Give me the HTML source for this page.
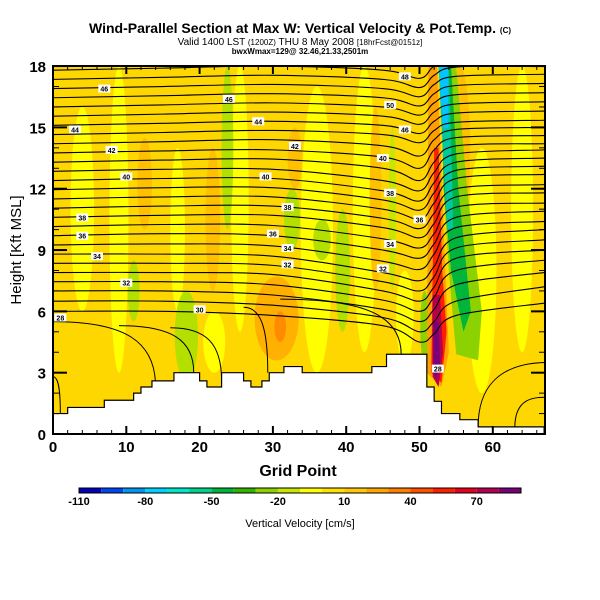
<!DOCTYPE html>
<html><head><meta charset="utf-8"><style>
body{margin:0;background:#fff}
svg{display:block;font-family:"Liberation Sans",sans-serif}
</style></head><body>
<svg id="chart" width="600" height="600" viewBox="0 0 600 600">
<text x="300" y="33" text-anchor="middle" font-size="14" font-weight="bold">Wind-Parallel Section at Max W: Vertical Velocity &amp; Pot.Temp. <tspan font-size="8">(C)</tspan></text>
<text x="300" y="45" text-anchor="middle" font-size="10">Valid 1400 LST <tspan font-size="8">(1200Z)</tspan> THU 8 May 2008 <tspan font-size="8">[18hrFcst@0151z]</tspan></text>
<text x="300" y="54" text-anchor="middle" font-size="8" font-weight="bold">bwxWmax=129@ 32.46,21.33,2501m</text>
<defs><clipPath id="pc"><rect x="53" y="66" width="492" height="368"/></clipPath></defs>
<g id="plot" clip-path="url(#pc)"></g>
<g id="axes"></g>
<text x="298" y="476" text-anchor="middle" font-size="16" font-weight="bold">Grid Point</text>
<text transform="translate(21,250) rotate(-90)" text-anchor="middle" font-size="15">Height [Kft MSL]</text>
<g id="cbar"></g>
<text x="300" y="527" text-anchor="middle" font-size="11">Vertical Velocity [cm/s]</text>
</svg>
<script>
const NS="http://www.w3.org/2000/svg";
// ---- data ----
const xTicks=[0,10,20,30,40,50,60];
const yTicks=[0,3,6,9,12,15,18];
const cbarColors=["#0000b4","#0046f0","#0096f0","#00d2ff","#00e6c8","#00d28c","#00b43c","#32b400","#8cd200","#c8e600","#ffff00","#ffe100","#ffc800","#ffa500","#ff7d00","#ff5000","#ff1e00","#e6001e","#b40050","#780078"];
const cbarLabels=["-110","-80","-50","-20","10","40","70"];
const terrX=[0,2,2,7,7,11,11,12,12,13.5,13.5,16.5,16.5,20,20,21,21,23,23,26,26,27,27,28.5,28.5,29.5,29.5,31.5,31.5,34,34,43.5,43.5,45.5,45.5,51,51,52,52,53,53,55.5,55.5,58,58,62.5,62.5,67];
const terrH=[1,1,1.3,1.3,1.65,1.65,2,2,2.3,2.3,2.6,2.6,3.0,3.0,2.6,2.6,2.3,2.3,3.0,3.0,2.6,2.6,2.3,2.3,2.6,2.6,3.0,3.0,3.3,3.3,3.0,3.0,3.3,3.3,3.9,3.9,2.3,2.3,1.6,1.6,1.0,1.0,0.7,0.7,0.35,0.35,0.35,0.35];
const cX=[0,15,30,45,50,52,55,67];
const contourH=[
[17.8,17.9,18.0,17.8,17.4,18.0,18.4,18.5],
[17.35,17.45,17.55,17.35,16.95,17.55,17.95,18.05],
[16.9,17.0,17.1,16.9,16.5,17.1,17.5,17.6],
[16.45,16.55,16.65,16.45,16.05,16.65,17.05,17.15],
[16.0,16.1,16.2,16.0,15.6,16.2,16.6,16.7],
[15.55,15.65,15.75,15.55,15.15,15.75,16.15,16.25],
[15.1,15.2,15.3,15.1,14.7,15.3,15.7,15.8],
[14.65,14.75,14.85,14.65,14.25,14.85,15.25,15.35],
[14.2,14.3,14.4,14.1,13.6,14.4,14.9,15.0],
[13.75,13.85,13.9,13.55,13.0,13.9,14.5,14.6],
[13.3,13.4,13.45,13.0,12.4,13.3,14.1,14.2],
[12.85,12.95,12.95,12.4,11.9,12.8,13.7,13.9],
[12.4,12.5,12.5,11.9,11.4,12.3,13.3,13.5],
[11.95,12.05,12.05,11.45,10.95,11.8,12.9,13.1],
[11.5,11.6,11.6,11.0,10.5,11.3,12.5,12.7],
[11.05,11.15,11.15,10.55,10.05,10.8,12.0,12.2],
[10.6,10.7,10.7,10.1,9.6,10.3,11.6,11.8],
[10.15,10.25,10.2,9.55,9.1,9.8,11.1,11.3],
[9.7,9.8,9.7,9.0,8.6,9.3,10.6,10.9],
[9.25,9.3,9.2,8.45,8.05,8.8,10.1,10.4],
[8.8,8.8,8.7,7.9,7.5,8.2,9.6,10.0],
[8.35,8.35,8.25,7.45,7.0,7.7,9.1,9.5],
[7.9,7.9,7.8,7.0,6.5,7.2,8.6,9.0],
[7.45,7.45,7.3,6.55,6.0,6.7,8.0,8.5],
[7.0,7.0,6.8,6.1,5.5,6.1,7.3,7.9],
[6.5,6.5,6.3,5.7,5.0,5.5,6.5,7.2],
[6.0,6.0,5.8,5.3,4.5,4.9,5.8,6.4]];
// low contours bending to ground: [start x, start km, end x, ground km]
const domes=[[0,5.5,14,2.3],[9,5.3,19.2,3.0],[16,5.2,23,2.6],[26,6.2,29.3,3.0],[31,6.6,47.5,3.9],[0,2.8,1,1.0]];
const labels=[[7,16.9,"46"],[3,14.9,"44"],[8,13.9,"42"],[10,12.6,"40"],[4,10.6,"38"],[4,9.7,"36"],[6,8.7,"34"],[10,7.4,"32"],[20,6.1,"30"],[1,5.7,"28"],[24,16.4,"46"],[28,15.3,"44"],[33,14.1,"42"],[29,12.6,"40"],[32,11.1,"38"],[30,9.8,"36"],[32,9.1,"34"],[32,8.3,"32"],[48,17.5,"48"],[46,16.1,"50"],[48,14.9,"46"],[45,13.5,"40"],[46,11.8,"38"],[50,10.5,"36"],[46,9.3,"34"],[45,8.1,"32"],[52.5,3.2,"28"]];
// ---- axis functions ----
const X=g=>53+g*7.33;
const Y=h=>434-h*20.44;
function el(t,a,p){const e=document.createElementNS(NS,t);for(const k in a)e.setAttribute(k,a[k]);(p||document.getElementById("plot")).appendChild(e);return e;}
function smooth(P){let d=`M${P[0][0]},${P[0][1]}`;for(let i=0;i<P.length-1;i++){const p0=P[i-1]||P[i],p1=P[i],p2=P[i+1],p3=P[i+2]||p2;d+=` C${p1[0]+(p2[0]-p0[0])/6},${p1[1]+(p2[1]-p0[1])/6} ${p2[0]-(p3[0]-p1[0])/6},${p2[1]-(p3[1]-p1[1])/6} ${p2[0]},${p2[1]}`;}return d;}
el("rect",{x:53,y:66,width:492,height:368,fill:"#ffd700"});
// streaks [color, gx, top km, bottom km, half-width grid]
const streaks=[["#ffff00",4,16,6,1.6],["#ffff00",9,18,3,1.3],["#ffff00",17,14,6,1.0],["#ffff00",25.5,18,5,1.2],["#ffff00",36,17,3,2.2],["#ffff00",42.5,18,4,1.6],["#ffff00",58.5,14,2,2.0],["#ffff00",64,18,4,1.5],["#ffff00",22,6,3,1.5],["#ffff00",48,8,3.5,1.2],
["#ffc000",12.5,14.5,10,1.0],["#ffc000",21.8,14,7,1.0],["#ffc000",55.5,18,10,1.4],["#ffc000",44,16,7,0.8],["#ffb000",30.5,7.7,3.6,3.0],["#ff8c00",31,6,4.5,0.8],["#ffc000",33,15,12,1.0],
["#b4e000",23.8,18,10,0.8],["#b4e000",32.6,12,9,1.1],["#b4e000",11,8.5,5.5,0.8],["#b4e000",18.2,7,2.6,1.6],["#b4e000",39.5,11,5,1.0],["#b4e000",36.7,10.5,8.5,1.2],["#c8e600",46.3,15,7,0.5],["#8cd200",50.7,7,3.5,0.6]];
streaks.forEach(s=>{const e=el("ellipse",{cx:X(s[1]),cy:(Y(s[2])+Y(s[3]))/2,rx:s[4]*7.33,ry:(Y(s[3])-Y(s[2]))/2,fill:s[0]});

});
const cores=[
["#ffa000",[[51.2,18],[52.4,18],[53.4,9],[54,4],[53,2.3],[51,3],[51.1,9]]],
["#8cd200",[[53,18],[55,18],[56.5,12],[58.5,6],[58,3.6],[55,3.9],[54,8],[53.3,12]]],
["#00b43c",[[52.9,18],[54.3,18],[55.3,12],[57,6],[56,5],[54.3,8],[53.3,12]]],
["#00c8a0",[[52.6,18],[54,18],[54.5,12],[54.6,10],[53.8,10],[53.3,13]]],
["#00c8ff",[[52.6,18],[53.9,18],[53.9,15],[53.2,15]]],
["#ff1e00",[[52.0,14],[52.6,14],[53.1,8],[53.7,5],[53,2.5],[51.6,3],[51.8,8]]],
["#b40050",[[51.8,6.8],[52.8,6.8],[53.2,4],[52.6,2.3],[51.8,2.8]]],
["#780078",[[51.9,5.5],[52.6,5.5],[52.8,3.5],[52.3,2.7],[51.9,3]]]];
cores.forEach(c=>{const e=el("polygon",{points:c[1].map(p=>X(p[0])+","+Y(p[1])).join(" "),fill:c[0]});

});
contourH.forEach(r=>{const e=el("path",{d:smooth(r.map((h,i)=>[X(cX[i]),Y(h)])),fill:"none",stroke:"#000","stroke-width":1.1});

});
domes.forEach(d=>{const x0=X(d[0]),y0=Y(d[1]),x1=X(d[2]),yb=Y(d[3]);const e=el("path",{d:`M${x0},${y0} C${x0+(x1-x0)*0.7},${y0} ${x1},${y0+(yb-y0)*0.3} ${x1},${yb}`,fill:"none",stroke:"#000","stroke-width":1});

});
// right-side low arcs
[[58,0.35,67,3.5],[63,0.3,67,1.8]].forEach(d=>{const x0=X(d[0]),y0=Y(d[1]),x1=X(d[2]),yt=Y(d[3]);const e=el("path",{d:`M${x0},${y0} C${x0},${yt} ${x1-10},${yt} ${x1+5},${yt}`,fill:"none",stroke:"#000","stroke-width":1});

});
labels.forEach(l=>{const r=el("rect",{x:X(l[0])-6,y:Y(l[1])-4,width:12,height:8,fill:"#fff"});


const t=el("text",{x:X(l[0]),y:Y(l[1])+3,"text-anchor":"middle","font-size":7,"font-weight":"bold"});t.textContent=l[2];

});
let pts=terrX.map((g,i)=>X(g)+","+Y(terrH[i])).join(" ")+` ${X(67)},434 53,434`;
const tr=el("polygon",{points:pts,fill:"#fff",stroke:"#000","stroke-width":1.2});


const ax=document.getElementById("axes");
const fr=el("rect",{x:53,y:66,width:492,height:368,fill:"none",stroke:"#000","stroke-width":2},ax);


for(let g=0;g<=66;g+=2){const maj=g%10==0;el("line",{x1:X(g),x2:X(g),y1:434,y2:434-(maj?8:4),stroke:"#000","stroke-width":maj?2:1},ax);el("line",{x1:X(g),x2:X(g),y1:66,y2:66+(maj?8:4),stroke:"#000","stroke-width":maj?2:1},ax);}
for(let h=0;h<=18;h++){const maj=h%3==0;el("line",{x1:53,x2:53+(maj?14:6),y1:Y(h),y2:Y(h),stroke:"#000","stroke-width":maj?2:1},ax);el("line",{x1:545,x2:545-(maj?14:6),y1:Y(h),y2:Y(h),stroke:"#000","stroke-width":maj?2:1},ax);}
xTicks.forEach(v=>{const t=el("text",{x:X(v),y:452,"text-anchor":"middle","font-size":15,"font-weight":"bold"},ax);t.textContent=v;

});
yTicks.forEach(v=>{const t=el("text",{x:46,y:Y(v)+6,"text-anchor":"end","font-size":15,"font-weight":"bold"},ax);t.textContent=v;

});
const cb=document.getElementById("cbar");
cbarColors.forEach((c,i)=>{const r=el("rect",{x:79+i*22.1,y:488,width:22.1,height:5,fill:c},cb);

});
el("rect",{x:79,y:488,width:442,height:5,fill:"none",stroke:"#000","stroke-width":1},cb);
cbarLabels.forEach((l,i)=>{const t=el("text",{x:79+i*66.3,y:505,"text-anchor":"middle","font-size":11,"font-weight":"bold"},cb);t.textContent=l;

});
</script>
</body></html>
